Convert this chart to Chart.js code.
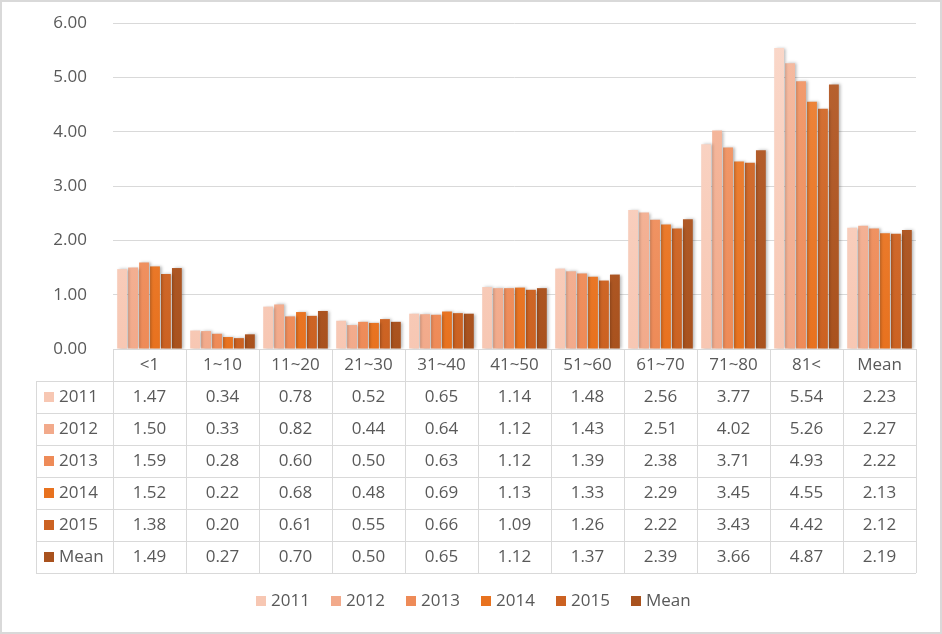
<!DOCTYPE html>
<html>
<head>
<meta charset="utf-8">
<script src="https://cdn.jsdelivr.net/npm/chart.js@4/dist/chart.umd.min.js"></script>
<style>
  body { margin: 0; background: #fff; }
  #wrap { width: 942px; height: 634px; }
</style>
</head>
<body>
<div id="wrap"><canvas id="myChart" width="942" height="634"></canvas></div>
<script>
// datos del grafico
var categorias = ['<1', '1~10', '11~20', '21~30', '31~40', '41~50', '51~60', '61~70', '71~80', '81<', 'Mean'];
var serie2011 = [1.47, 0.34, 0.78, 0.52, 0.65, 1.14, 1.48, 2.56, 3.77, 5.54, 2.23];
var serie2012 = [1.50, 0.33, 0.82, 0.44, 0.64, 1.12, 1.43, 2.51, 4.02, 5.26, 2.27];
var serie2013 = [1.59, 0.28, 0.60, 0.50, 0.63, 1.12, 1.39, 2.38, 3.71, 4.93, 2.22];
var serie2014 = [1.52, 0.22, 0.68, 0.48, 0.69, 1.13, 1.33, 2.29, 3.45, 4.55, 2.13];
var serie2015 = [1.38, 0.20, 0.61, 0.55, 0.66, 1.09, 1.26, 2.22, 3.43, 4.42, 2.12];
var serieMean = [1.49, 0.27, 0.70, 0.50, 0.65, 1.12, 1.37, 2.39, 3.66, 4.87, 2.19];
var nombres = ['2011', '2012', '2013', '2014', '2015', 'Mean'];
var ticksY = [0, 1, 2, 3, 4, 5, 6];

var colores = ['#F7C7B3', '#F2AA8B', '#EE8B58', '#E8721F', '#CC6222', '#A9521E'];
var coloresArriba = ['#FAD8CA', '#F5BCA3', '#F29E72', '#EE8840', '#D67539', '#B96433'];

var fuente = '"Open Sans", "Noto Sans", sans-serif';
var gris = '#595959';
var linea = '#D9D9D9';

var series = [serie2011, serie2012, serie2013, serie2014, serie2015, serieMean];

function degradado(i) {
  return function (c) {
    var area = c.chart.chartArea;
    if (!area) return colores[i];
    var g = c.chart.ctx.createLinearGradient(0, area.top, 0, area.bottom);
    g.addColorStop(0, coloresArriba[i]);
    g.addColorStop(1, colores[i]);
    return g;
  };
}

var datasets = series.map(function (s, i) {
  return {
    label: nombres[i],
    data: s,
    backgroundColor: degradado(i),
    borderWidth: 0,
    categoryPercentage: 0.9,
    barPercentage: 0.9
  };
});

// sombra de las barras
var sombra = {
  id: 'sombra',
  beforeDatasetsDraw: function (chart) {
    var ctx = chart.ctx;
    ctx.save();
    ctx.shadowColor = 'rgba(0,0,0,0.28)';
    ctx.shadowBlur = 3;
    ctx.shadowOffsetX = 2;
    ctx.shadowOffsetY = 0;
  },
  afterDatasetsDraw: function (chart) {
    chart.ctx.restore();
  }
};

// fondo y borde
var fondo = {
  id: 'fondo',
  beforeDraw: function (chart) {
    var ctx = chart.ctx;
    ctx.save();
    ctx.fillStyle = '#fff';
    ctx.fillRect(0, 0, chart.width, chart.height);
    ctx.strokeStyle = linea;
    ctx.lineWidth = 2;
    ctx.strokeRect(1, 1, chart.width - 2, chart.height - 2);
    ctx.restore();
  }
};

// tabla de datos y leyenda
var tabla = {
  id: 'tabla',
  afterDraw: function (chart) {
    var ctx = chart.ctx;
    var x = chart.scales.x;
    var area = chart.chartArea;
    var ancho = (area.right - area.left) / categorias.length;
    var alto = 32;
    var arriba = area.bottom;
    var izq = 36;
    var filas = series.length;
    var abajo = arriba + alto * (filas + 1);

    ctx.save();
    ctx.strokeStyle = linea;
    ctx.lineWidth = 1;
    ctx.beginPath();
    // horizontales
    ctx.moveTo(area.left, arriba + 0.5);
    ctx.lineTo(area.right, arriba + 0.5);
    for (var r = 1; r <= filas + 1; r++) {
      var yy = Math.round(arriba + alto * r) + 0.5;
      ctx.moveTo(izq, yy);
      ctx.lineTo(area.right, yy);
    }
    // verticales
    ctx.moveTo(izq + 0.5, arriba + alto);
    ctx.lineTo(izq + 0.5, abajo);
    for (var c = 0; c <= categorias.length; c++) {
      var xx = Math.round(area.left + ancho * c) + 0.5;
      ctx.moveTo(xx, arriba);
      ctx.lineTo(xx, abajo);
    }
    ctx.stroke();

    ctx.font = '17px ' + fuente;
    ctx.fillStyle = gris;
    ctx.textAlign = 'center';
    ctx.textBaseline = 'middle';
    for (var i = 0; i < categorias.length; i++) {
      var cx = x.getPixelForValue(i);
      ctx.fillText(categorias[i], cx, arriba + alto / 2);
      for (var s = 0; s < filas; s++) {
        ctx.fillText(series[s][i].toFixed(2), cx, arriba + alto * (s + 1.5));
      }
    }
    ctx.textAlign = 'left';
    for (var s2 = 0; s2 < filas; s2++) {
      var cy = arriba + alto * (s2 + 1.5);
      ctx.fillStyle = colores[s2];
      ctx.fillRect(44, cy - 5, 10, 10);
      ctx.fillStyle = gris;
      ctx.fillText(nombres[s2], 59, cy);
    }

    // leyenda
    var ly = 601;
    var lx = 256;
    for (var k = 0; k < nombres.length; k++) {
      ctx.fillStyle = colores[k];
      ctx.fillRect(lx, ly - 5, 10, 10);
      ctx.fillStyle = gris;
      ctx.fillText(nombres[k], lx + 15, ly);
      lx += 75;
    }
    ctx.restore();
  }
};

var ctx = document.getElementById('myChart').getContext('2d');
var myChart = new Chart(ctx, {
  type: 'bar',
  data: {
    labels: categorias,
    datasets: datasets
  },
  options: {
    responsive: false,
    animation: false,
    layout: { padding: { top: 23, right: 26, bottom: 62, left: 0 } },
    plugins: {
      legend: { display: false },
      tooltip: { enabled: false }
    },
    scales: {
      x: {
        grid: { display: false },
        border: { display: false },
        ticks: { display: false },
        afterFit: function (s) { s.height = 223; }
      },
      y: {
        min: 0,
        max: 6,
        afterFit: function (s) {
          s.width = 113;
          // el padding de los ticks no debe empujar el area hacia abajo
          s.paddingTop = 0;
          s.paddingBottom = 0;
        },
        afterBuildTicks: function (s) {
          s.ticks = ticksY.map(function (v) { return { value: v }; });
        },
        grid: { color: linea, lineWidth: 1, drawTicks: false },
        border: { display: false },
        ticks: {
          padding: 26,
          color: gris,
          font: { family: fuente, size: 17 },
          callback: function (v) { return v.toFixed(2); }
        }
      }
    }
  },
  plugins: [fondo, sombra, tabla]
});
</script>
</body>
</html>
